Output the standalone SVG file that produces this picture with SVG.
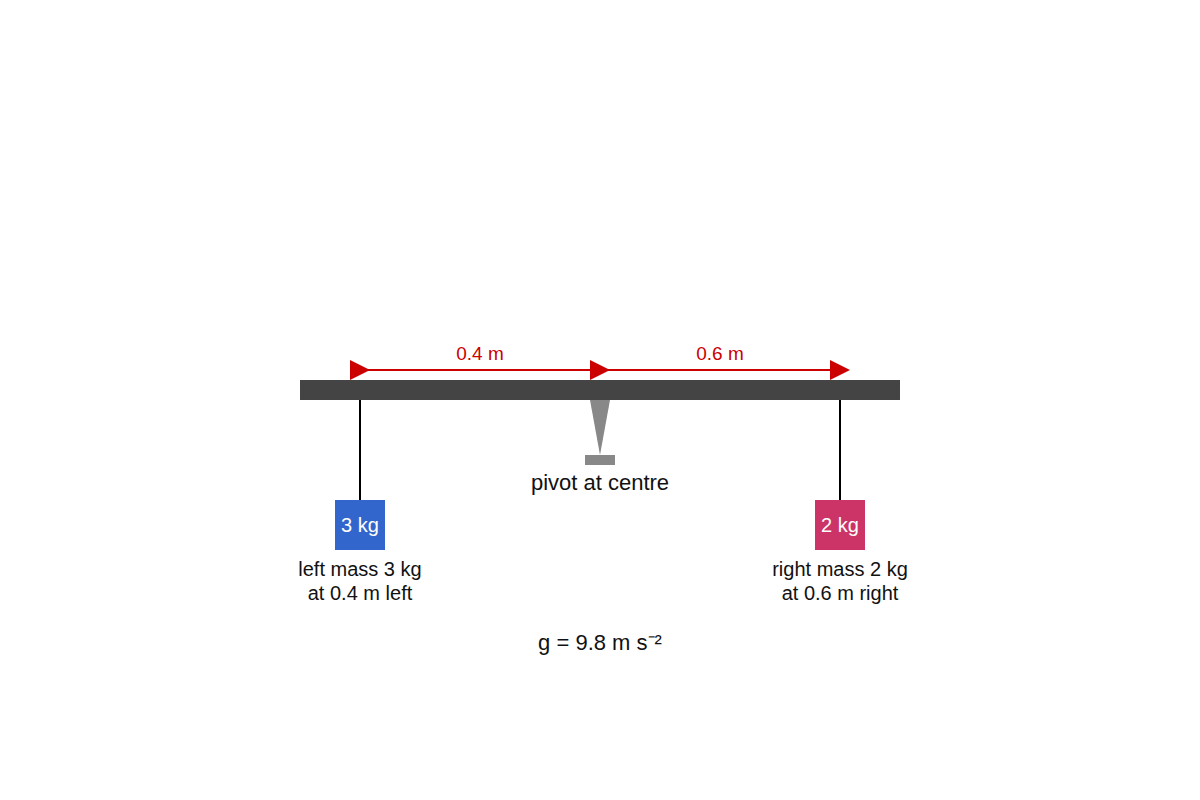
<svg xmlns="http://www.w3.org/2000/svg" width="1200" height="800" viewBox="0 0 1200 800">
<style>
text{font-family:"Liberation Sans",Arial,sans-serif;text-anchor:middle}
.lbl{font-size:20px;fill:#111}
.big{font-size:22px;fill:#111}
.dim{font-size:19px;fill:#cc0000}
.mt{font-size:20px;fill:#fff}
.str{stroke:#000;stroke-width:2}
.dl{stroke:#cc0000;stroke-width:2;fill:none}
</style>
<defs>
<marker id="tri" markerUnits="userSpaceOnUse" markerWidth="20" markerHeight="20" refX="10" refY="10" orient="auto" viewBox="0 0 20 20">
<path d="M0,0 L20,10 L0,20 Z" fill="#cc0000"/>
</marker>
</defs>
<rect width="1200" height="800" fill="#fff"/>
<g id="beam"><rect x="300" y="380" width="600" height="20" fill="#444"/></g>
<g id="pivot">
<path d="M590,400 L610,400 L600,455 Z" fill="#888"/>
<rect x="585" y="455" width="30" height="10" fill="#888"/>
<text class="big" x="600" y="490">pivot at centre</text>
</g>
<g id="connectors">
<line class="str" x1="360" y1="400" x2="360" y2="500"/>
<line class="str" x1="840" y1="400" x2="840" y2="500"/>
<line class="dl" x1="360" y1="370" x2="600" y2="370" marker-start="url(#tri)" marker-end="url(#tri)"/>
<line class="dl" x1="600" y1="370" x2="840" y2="370" marker-end="url(#tri)"/>
<text class="dim" x="480" y="360">0.4 m</text>
<text class="dim" x="720" y="360">0.6 m</text>
</g>
<g id="left-mass">
<rect x="335" y="500" width="50" height="50" fill="#3366cc"/>
<text class="mt" x="360" y="532">3 kg</text>
<text class="lbl" x="360" y="576">left mass 3 kg</text>
<text class="lbl" x="360" y="600">at 0.4 m left</text>
</g>
<g id="right-mass">
<rect x="815" y="500" width="50" height="50" fill="#cc3366"/>
<text class="mt" x="840" y="532">2 kg</text>
<text class="lbl" x="840" y="576">right mass 2 kg</text>
<text class="lbl" x="840" y="600">at 0.6 m right</text>
</g>
<g id="gravity"><text class="big" x="600" y="650">g = 9.8 m s⁻²</text></g>
</svg>
